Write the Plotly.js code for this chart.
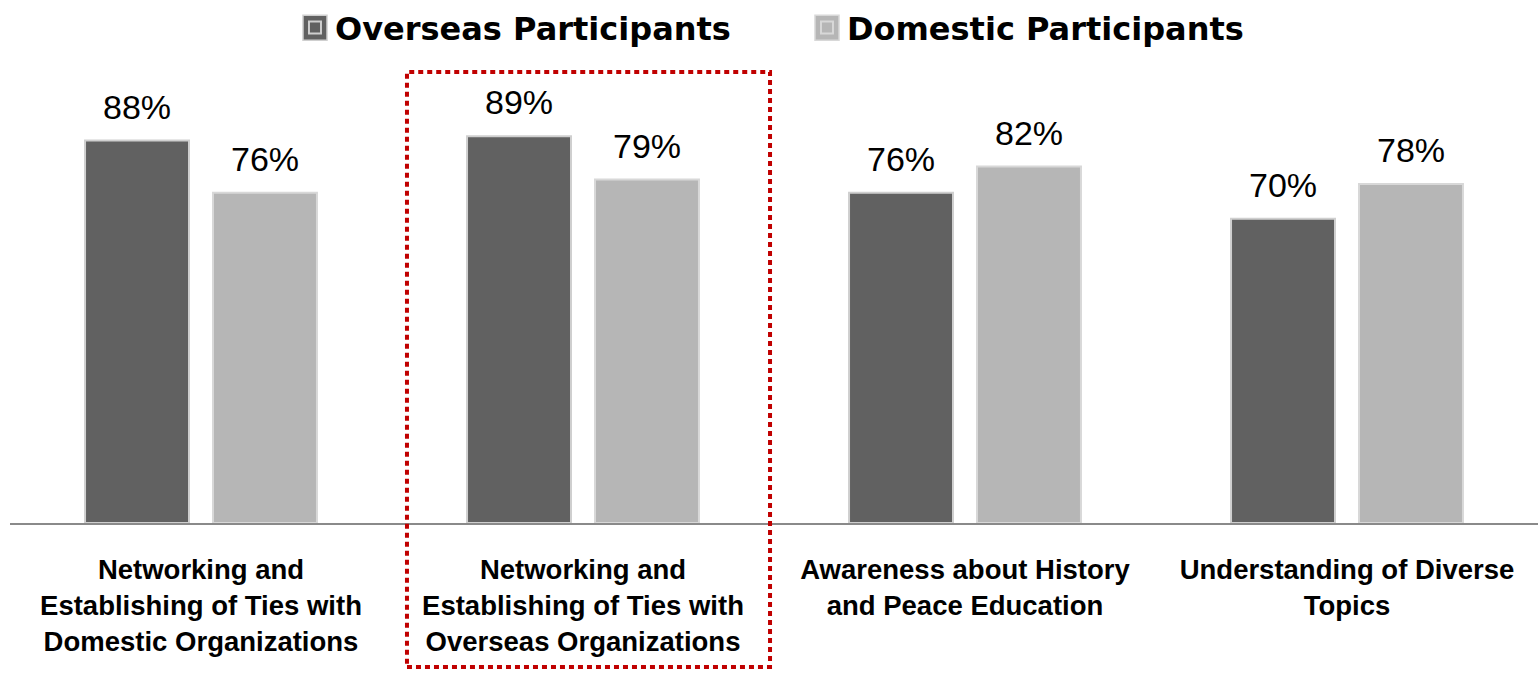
<!DOCTYPE html>
<html>
<head>
<meta charset="utf-8">
<script src="https://cdn.plot.ly/plotly-3.0.1.min.js"></script>
<style>html,body{margin:0;padding:0;background:#fff;}#chart{width:1538px;height:673px;}</style>
</head>
<body>
<div id="chart"></div>
<script>
const categories = [
  "Networking and<br>Establishing of Ties with<br>Domestic Organizations",
  "Networking and<br>Establishing of Ties with<br>Overseas Organizations",
  "Awareness about History<br>and Peace Education",
  "Understanding of Diverse<br>Topics"
];
const seriesNames = ["Overseas Participants", "Domestic Participants"];
const overseas = [88, 89, 76, 70];
const domestic = [76, 79, 82, 78];

const colors = ["#616161", "#b6b6b6"];
const lineColors = ["#cfcfcf", "#d8d8d8"];
const allSeries = [overseas, domestic];

const traces = allSeries.map((vals, i) => ({
  type: "bar",
  name: seriesNames[i],
  x: categories,
  y: vals,
  marker: {color: colors[i], line: {color: lineColors[i], width: 2}},
  hoverinfo: "skip"
}));

const annotations = [];
allSeries.forEach((vals, i) => {
  vals.forEach((v, j) => {
    annotations.push({
      x: categories[j], y: v, xref: "x", yref: "y",
      text: v + "%", showarrow: false,
      xshift: i === 0 ? -64 : 64, yshift: 34, yanchor: "middle",
      font: {family: "Liberation Sans, Arial, sans-serif", size: 34, color: "#000"}
    });
  });
});

// enlarged legend swatches drawn behind the legend's own symbols
const swatchX = [[0.19175, 0.20746], [0.52683, 0.54254]];
const shapes = swatchX.map((sx, i) => ({
  type: "rect", xref: "paper", yref: "paper",
  x0: sx[0], x1: sx[1], y0: 1.0497, y1: 1.1037,
  fillcolor: colors[i], line: {color: lineColors[i], width: 1.5}, layer: "above"
}));
shapes.push({
  type: "rect", xref: "paper", yref: "paper",
  x0: 0.2598, x1: 0.4974, y0: -0.3132, y1: 0.9806,
  line: {color: "#c00000", width: 4, dash: "5px,4px"}, fillcolor: "rgba(0,0,0,0)"
});

const layout = {
  width: 1538, height: 673,
  margin: {l: 10, r: 0, t: 60, b: 150},
  paper_bgcolor: "#fff", plot_bgcolor: "#fff",
  barmode: "group", bargap: 0.33, bargroupgap: 0.1875,
  showlegend: true,
  legend: {
    orientation: "h", x: 0.1865, xanchor: "left", y: 1.0767, yanchor: "middle",
    entrywidth: 467, entrywidthmode: "pixels", bgcolor: "rgba(0,0,0,0)",
    font: {family: "DejaVu Sans, sans-serif", size: 32, color: "#000", weight: "bold"},
    itemclick: false, itemdoubleclick: false, traceorder: "normal"
  },
  xaxis: {
    type: "category", showline: true, linecolor: "#8a8a8a", linewidth: 2,
    ticks: "", showgrid: false, zeroline: false, ticklabelstandoff: 21,
    tickfont: {family: "Liberation Sans, Arial, sans-serif", size: 27.5, color: "#000", weight: "bold"},
    fixedrange: true
  },
  yaxis: {
    range: [0, 105.83], showticklabels: false, showgrid: false, zeroline: false,
    showline: false, ticks: "", fixedrange: true
  },
  annotations: annotations,
  shapes: shapes
};

Plotly.newPlot("chart", traces, layout, {displayModeBar: false, staticPlot: true});
</script>
</body>
</html>
